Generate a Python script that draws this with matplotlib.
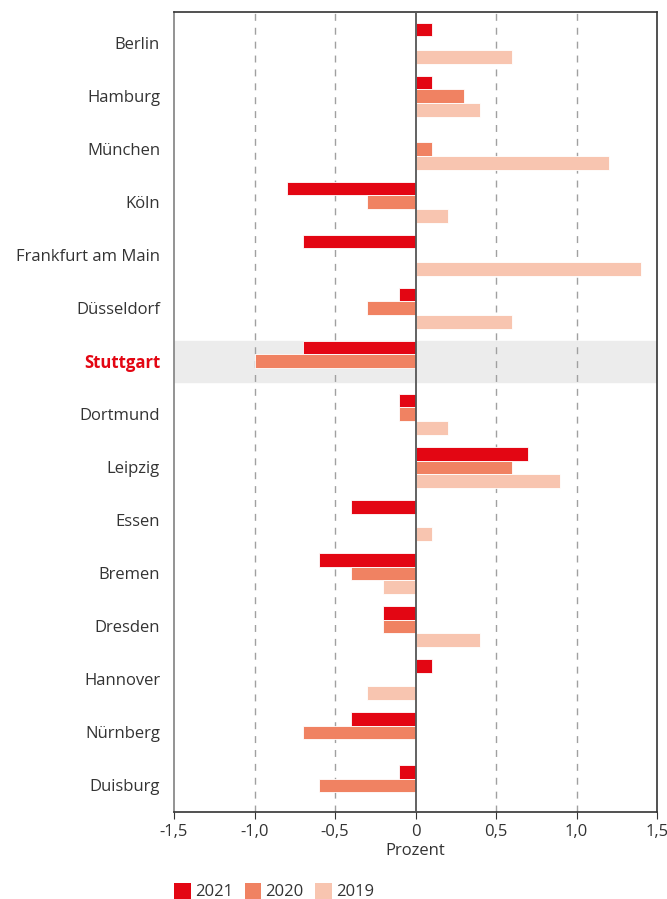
import numpy as np
import matplotlib
matplotlib.use('Agg')
import matplotlib.pyplot as plt
from matplotlib.patches import Patch

plt.rcParams['font.family'] = ['Open Sans', 'DejaVu Sans']

cities = ['Berlin', 'Hamburg', 'München', 'Köln', 'Frankfurt am Main', 'Düsseldorf',
          'Stuttgart', 'Dortmund', 'Leipzig', 'Essen', 'Bremen', 'Dresden',
          'Hannover', 'Nürnberg', 'Duisburg']
v2021 = [0.1, 0.1, 0.0, -0.8, -0.7, -0.1, -0.7, -0.1, 0.7, -0.4, -0.6, -0.2, 0.1, -0.4, -0.1]
v2020 = [0.0, 0.3, 0.1, -0.3, 0.0, -0.3, -1.0, -0.1, 0.6, 0.0, -0.4, -0.2, 0.0, -0.7, -0.6]
v2019 = [0.6, 0.4, 1.2, 0.2, 1.4, 0.6, 0.0, 0.2, 0.9, 0.1, -0.2, 0.4, -0.3, 0.0, 0.0]
years = ['2021', '2020', '2019']
colors = ['#e30613', '#f08262', '#f8c5b0']
xticks = [-1.5, -1.0, -0.5, 0, 0.5, 1.0, 1.5]
xticklabels = ['-1,5', '-1,0', '-0,5', '0', '0,5', '1,0', '1,5']

fig = plt.figure(figsize=(6.67, 8.99), dpi=100)
ax = fig.add_axes([174/667, 1-812/899, 483/667, 800/899])

y = np.arange(len(cities))
h = 0.26
hl = cities.index('Stuttgart')
ax.axhspan(hl - 1.5*h, hl + 1.5*h, color='#ececec', zorder=0)

for x in [-1.0, -0.5, 0.5, 1.0]:
    ax.axvline(x, color='#a0a0a0', lw=1, ls=(0, (5, 5)), zorder=1)

for k, vals in enumerate([v2021, v2020, v2019]):
    ax.barh(y + (k-1)*h, vals, height=h, color=colors[k], edgecolor='white',
            linewidth=0.6, zorder=2)

ax.axvline(0, color='#555555', lw=1.3, zorder=3)

ax.set_xlim(-1.5, 1.5)
ax.set_ylim(14.5, -0.59)
ax.set_yticks(y)
ax.set_yticklabels(cities, fontsize=12, color='#333333')
ax.tick_params(axis='y', length=0, pad=10)
for lab in ax.get_yticklabels():
    if lab.get_text() == 'Stuttgart':
        lab.set_color('#e30613')
        lab.set_fontweight('bold')
ax.set_xticks(xticks)
ax.set_xticklabels(xticklabels, fontsize=12, color='#333333')
ax.tick_params(axis='x', length=5, color='#333333', pad=4)
ax.set_xlabel('Prozent', fontsize=12, color='#333333', labelpad=2)

for s in ['top', 'right', 'bottom']:
    ax.spines[s].set_color('#333333')
    ax.spines[s].set_linewidth(1.2)
ax.spines['left'].set_color('#808080')
ax.spines['left'].set_linewidth(1.2)

handles = [Patch(facecolor=c, label=l) for c, l in zip(colors, years)]
fig.legend(handles=handles, loc='lower left', bbox_to_anchor=(159/667, -0.018), ncol=3,
           frameon=False, fontsize=12, handlelength=1.0, handleheight=1.1,
           handletextpad=0.25, columnspacing=0.7, labelcolor='#333333')

fig.savefig('out.png', dpi=100)
